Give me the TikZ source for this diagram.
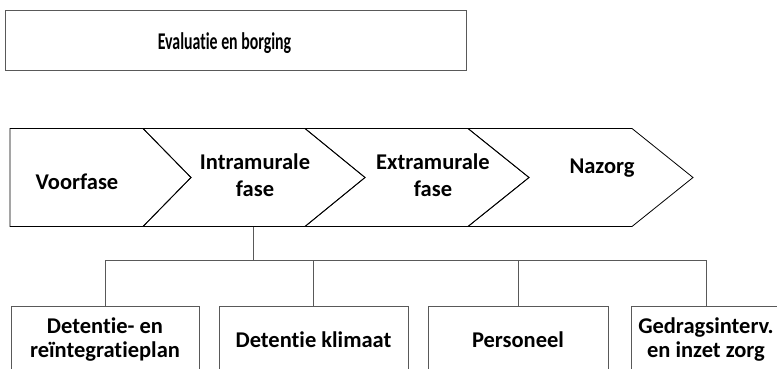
\documentclass[tikz,border=0pt]{standalone}
\usepackage{fontspec}
\setmainfont{Carlito}[Ligatures={NoCommon}]
\usepackage{graphicx}
\begin{document}
\begin{tikzpicture}[x=1pt,y=-1pt,
  chev/.style={draw=black,line width=0.8pt,line join=miter},
  lbl/.style={align=center,font=\bfseries\fontsize{22.5}{27}\selectfont,inner sep=0pt},
  gbox/.style={draw=black!65,line width=1pt,minimum height=66pt,inner sep=0pt,align=center,
    font=\bfseries\fontsize{22.5}{24}\selectfont},
  conn/.style={draw=black!65,line width=1pt}]
\useasboundingbox (0,0) rectangle (777,369);
% top box
\node[draw=black!65,line width=1pt,minimum width=461pt,minimum height=60pt,inner sep=0pt] (eval) at (235.5,41) {};
\node[font=\bfseries\fontsize{24}{27}\selectfont,inner sep=0pt] (evaltxt) at (224.5,43) {\scalebox{0.66}[1]{Evaluatie en borging}};
% chevrons
\path[chev] (10,128.5) -- (143,128.5) -- (191,177.5) -- (143,226.5) -- (10,226.5) -- cycle;
\path[chev] (143,128.5) -- (305,128.5) -- (365,177.5) -- (305,226.5) -- (143,226.5) -- (191,177.5) -- cycle;
\path[chev] (305,128.5) -- (468,128.5) -- (529,177.5) -- (468,226.5) -- (305,226.5) -- (365,177.5) -- cycle;
\path[chev] (468,128.5) -- (632,128.5) -- (693,177.5) -- (632,226.5) -- (468,226.5) -- (529,177.5) -- cycle;
\node[lbl] (voor) at (77,182) {Voorfase};
\node[lbl] (intra) at (255,175) {Intramurale\\fase};
\node[lbl] (extra) at (433,175) {Extramurale\\fase};
\node[lbl] (nazorg) at (602,168) {Nazorg};
\coordinate (c2b) at (253,226.5);
\coordinate (bus) at (253,260);
% bottom boxes
\node[gbox,minimum width=188pt,anchor=north] (b1) at (105,306) {Detentie- en\\reïntegratieplan};
\node[gbox,minimum width=189pt,anchor=north] (b2) at (313.5,306) {Detentie klimaat};
\node[gbox,minimum width=180pt,anchor=north] (b3) at (518,306) {Personeel};
\node[gbox,minimum width=150pt,anchor=north] (b4) at (706,306) {Gedragsinterv.\\en inzet zorg};
% connectors
\draw[conn] (c2b) -- (bus);
\draw[conn] (b1.north) |- (bus);
\draw[conn] (b2.north) |- (bus);
\draw[conn] (b3.north) |- (bus);
\draw[conn] (b4.north) |- (bus);
\end{tikzpicture}
\end{document}
